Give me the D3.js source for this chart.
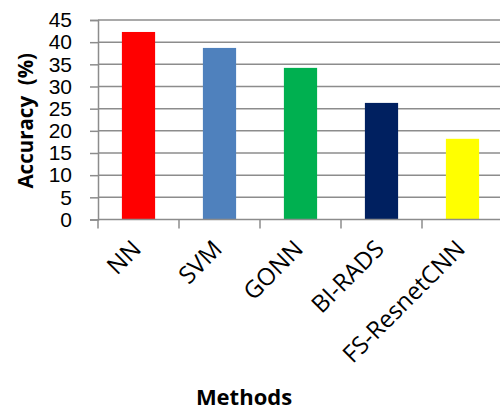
<!DOCTYPE html>
<html><head><meta charset="utf-8">
<script src="https://cdn.jsdelivr.net/npm/d3@7"></script>
<style>body{margin:0;background:#fff}svg{display:block}</style>
</head><body>
<script>
const categories = ["NN","SVM","GONN","BI-RADS","FS-ResnetCNN"];
const accuracy = [42.3, 38.7, 34.2, 26.3, 18.2];
const colors = ["#ff0000","#4f81bd","#00b050","#002060","#ffff00"];
const yTicks = [0,5,10,15,20,25,30,35,40,45];

const W=500,H=412;
const m={left:98,right:-3,top:20,bottom:192.5};
const svg=d3.select("body").append("svg").attr("width",W).attr("height",H);
const x=d3.scaleBand().domain(categories).range([m.left,W-m.right]).paddingInner(0.59).paddingOuter(0.295);
const y=d3.scaleLinear().domain([0,45]).range([H-m.bottom,m.top]);

// gridlines
svg.append("g").selectAll("line").data(yTicks.filter(d=>d>0)).join("line")
  .attr("x1",m.left).attr("x2",W).attr("y1",d=>y(d)).attr("y2",d=>y(d))
  .attr("stroke","#8c8c8c").attr("stroke-width",1.5);

// bars
svg.append("g").selectAll("rect").data(categories).join("rect")
  .attr("x",d=>x(d)).attr("width",x.bandwidth())
  .attr("y",(d,i)=>y(accuracy[i])).attr("height",(d,i)=>y(0)-y(accuracy[i]))
  .attr("fill",(d,i)=>colors[i]);

// y axis
const ya=svg.append("g").attr("transform",`translate(${m.left},0)`)
  .call(d3.axisLeft(y).tickValues(yTicks).tickSize(8).tickPadding(18));
ya.select(".domain").attr("stroke","#8c8c8c").attr("stroke-width",1.5);
ya.selectAll(".tick line").attr("stroke","#8c8c8c").attr("stroke-width",1.5);
ya.selectAll(".tick text").attr("font-family","Liberation Sans, Arial, sans-serif").attr("font-size",21).attr("fill","#000");

// x axis baseline + boundary ticks
const xg=svg.append("g");
xg.append("line").attr("x1",m.left).attr("x2",W).attr("y1",y(0)).attr("y2",y(0))
  .attr("stroke","#8c8c8c").attr("stroke-width",1.5);
const step=x.step();
const bounds=categories.map(d=>x(d)-(step-x.bandwidth())/2);
xg.selectAll("line.bt").data(bounds).join("line").attr("class","bt")
  .attr("x1",d=>d).attr("x2",d=>d).attr("y1",y(0)).attr("y2",y(0)+9)
  .attr("stroke","#8c8c8c").attr("stroke-width",1.5);

// x labels
xg.selectAll("text").data(categories).join("text")
  .attr("transform",d=>`translate(${x(d)+x.bandwidth()/2+4},${y(0)+31}) rotate(-45)`)
  .attr("text-anchor","end").attr("font-family","Open Sans, sans-serif").attr("font-size",24)
  .attr("fill","#000").text(d=>d);

// titles
svg.append("text").attr("transform",`translate(33,${(y(0)+y(45))/2+1}) rotate(-90)`)
  .attr("text-anchor","middle").attr("font-family","Open Sans, sans-serif").attr("font-weight","bold")
  .attr("font-size",20.5).attr("xml:space","preserve").text("Accuracy  (%)");
svg.append("text").attr("x",244).attr("y",405).attr("text-anchor","middle")
  .attr("font-family","Open Sans, sans-serif").attr("font-weight","bold").attr("font-size",22).text("Methods");
</script>
</body></html>
